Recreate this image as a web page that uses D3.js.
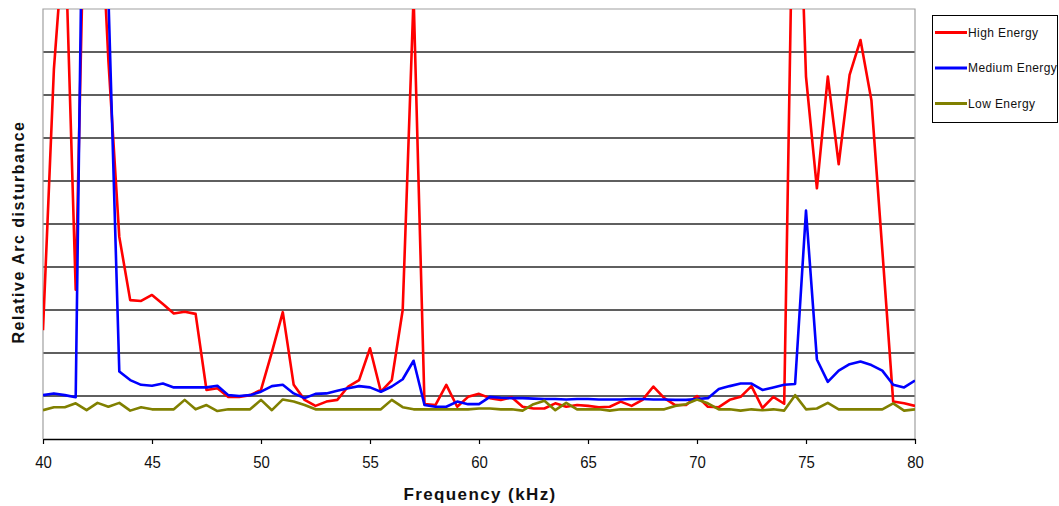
<!DOCTYPE html>
<html>
<head>
<meta charset="utf-8">
<script src="https://cdn.jsdelivr.net/npm/d3@7"></script>
<style>
  body { margin: 0; background: #fff; }
  text { font-family: "Liberation Sans", Arial, sans-serif; }
</style>
</head>
<body>
<script>
// chart data, one value every 0.5 kHz
const frequency = [40, 40.5, 41, 41.5, 42, 42.5, 43, 43.5, 44, 44.5, 45, 45.5, 46, 46.5, 47, 47.5, 48, 48.5, 49, 49.5,
  50, 50.5, 51, 51.5, 52, 52.5, 53, 53.5, 54, 54.5, 55, 55.5, 56, 56.5, 57, 57.5, 58, 58.5, 59, 59.5,
  60, 60.5, 61, 61.5, 62, 62.5, 63, 63.5, 64, 64.5, 65, 65.5, 66, 66.5, 67, 67.5, 68, 68.5, 69, 69.5,
  70, 70.5, 71, 71.5, 72, 72.5, 73, 73.5, 74, 74.5, 75, 75.5, 76, 76.5, 77, 77.5, 78, 78.5, 79, 79.5, 80];

const highEnergy = [2.53, 8.6, 12, 3.47, 15, 14, 8.8, 4.7, 3.23, 3.21, 3.35, 3.14, 2.92, 2.96, 2.91, 1.14, 1.18, 0.98, 0.98, 1.02,
  1.14, 2.02, 2.95, 1.26, 0.91, 0.77, 0.87, 0.91, 1.22, 1.37, 2.11, 1.10, 1.37, 3.0, 10.3, 0.81, 0.79, 1.26, 0.75, 0.98,
  1.05, 0.95, 0.91, 0.97, 0.75, 0.71, 0.71, 0.83, 0.75, 0.79, 0.77, 0.74, 0.75, 0.87, 0.77, 0.91, 1.22, 0.95, 0.79, 0.79,
  1.0, 0.75, 0.74, 0.91, 0.98, 1.23, 0.72, 0.98, 0.82, 16, 8.43, 5.83, 8.43, 6.39, 8.47, 9.28, 7.88, 4.4, 0.87, 0.83, 0.77];

const mediumEnergy = [1.02, 1.06, 1.02, 0.97, 20, 18, 10.3, 1.57, 1.37, 1.26, 1.24, 1.29, 1.20, 1.20, 1.20, 1.20, 1.24, 1.02, 1.0, 1.02,
  1.10, 1.23, 1.26, 1.06, 0.95, 1.05, 1.06, 1.12, 1.18, 1.23, 1.20, 1.10, 1.22, 1.39, 1.82, 0.79, 0.75, 0.75, 0.87, 0.81,
  0.81, 0.98, 0.96, 0.95, 0.95, 0.94, 0.93, 0.93, 0.92, 0.93, 0.93, 0.92, 0.92, 0.92, 0.93, 0.93, 0.92, 0.92, 0.91, 0.91,
  0.93, 0.95, 1.16, 1.23, 1.29, 1.29, 1.14, 1.20, 1.26, 1.28, 5.31, 1.85, 1.33, 1.59, 1.74, 1.80, 1.72, 1.59, 1.26, 1.20, 1.36];

const lowEnergy = [0.67, 0.74, 0.74, 0.83, 0.67, 0.84, 0.75, 0.84, 0.66, 0.74, 0.69, 0.69, 0.69, 0.91, 0.69, 0.79, 0.65, 0.69, 0.69, 0.69,
  0.91, 0.67, 0.92, 0.87, 0.79, 0.69, 0.69, 0.69, 0.69, 0.69, 0.69, 0.69, 0.91, 0.74, 0.69, 0.69, 0.69, 0.69, 0.69, 0.69,
  0.71, 0.71, 0.69, 0.69, 0.66, 0.81, 0.89, 0.67, 0.84, 0.69, 0.69, 0.69, 0.66, 0.69, 0.69, 0.69, 0.69, 0.69, 0.77, 0.81,
  0.92, 0.83, 0.69, 0.69, 0.66, 0.69, 0.67, 0.69, 0.66, 1.02, 0.69, 0.71, 0.84, 0.69, 0.69, 0.69, 0.69, 0.69, 0.83, 0.66, 0.69];

const seriesNames = ["High Energy", "Medium Energy", "Low Energy"];
const seriesColors = ["#ff0000", "#0000ff", "#808000"];
const xTicks = [40, 45, 50, 55, 60, 65, 70, 75, 80];
const gridValues = [1, 2, 3, 4, 5, 6, 7, 8, 9];

// layout
const width = 1059;
const height = 506;
const plotLeft = 43;
const plotRight = 915;
const plotTop = 9;
const plotBottom = 439;

var svg = d3.select("body").append("svg")
  .attr("width", width)
  .attr("height", height);

const xScale = d3.scaleLinear().domain([40, 80]).range([plotLeft, plotRight]);
const yScale = d3.scaleLinear().domain([0, 10]).range([plotBottom, plotTop]);

svg.append("clipPath")
  .attr("id", "plotClip")
  .append("rect")
  .attr("x", plotLeft)
  .attr("y", plotTop)
  .attr("width", plotRight - plotLeft)
  .attr("height", plotBottom - plotTop);

// gridlines
svg.selectAll(".grid")
  .data(gridValues)
  .enter()
  .append("line")
  .attr("class", "grid")
  .attr("x1", plotLeft)
  .attr("x2", plotRight)
  .attr("y1", function(d) { return yScale(d); })
  .attr("y2", function(d) { return yScale(d); })
  .attr("stroke", "#2a2a2a")
  .attr("stroke-width", 1.3);

// plot frame (grey top, left, right)
svg.append("path")
  .attr("d", "M" + plotLeft + "," + plotBottom + "V" + plotTop + "H" + plotRight + "V" + plotBottom)
  .attr("fill", "none")
  .attr("stroke", "#a0a0a0")
  .attr("stroke-width", 1.2);

// x axis
const xAxis = svg.append("g")
  .attr("transform", "translate(0," + plotBottom + ")")
  .call(d3.axisBottom(xScale).tickValues(xTicks).tickSize(5).tickSizeOuter(0).tickPadding(12));

xAxis.select(".domain").attr("stroke", "#000").attr("stroke-width", 1.6);
xAxis.selectAll(".tick line").attr("stroke", "#000").attr("stroke-width", 1.2);
xAxis.selectAll(".tick text")
  .attr("fill", "#111")
  .style("font-size", "17px")
  .attr("transform", "scale(0.88,1)")
  .attr("x", function(d) { return 0; });

// series lines
const line = d3.line()
  .x(function(d, i) { return xScale(frequency[i]); })
  .y(function(d) { return yScale(d); });

const plotGroup = svg.append("g").attr("clip-path", "url(#plotClip)");

[highEnergy, mediumEnergy, lowEnergy].forEach(function(values, i) {
  plotGroup.append("path")
    .datum(values)
    .attr("d", line)
    .attr("fill", "none")
    .attr("stroke", seriesColors[i])
    .attr("stroke-width", 2.6)
    .attr("stroke-linejoin", "round");
});

// axis titles
svg.append("text")
  .attr("x", (plotLeft + plotRight) / 2 + 1)
  .attr("y", 500)
  .attr("text-anchor", "middle")
  .style("font-size", "17px")
  .style("font-weight", "bold")
  .style("letter-spacing", "1.4px")
  .attr("fill", "#111")
  .text("Frequency (kHz)");

svg.append("text")
  .attr("transform", "translate(24,232) rotate(-90)")
  .attr("text-anchor", "middle")
  .style("font-size", "16px")
  .style("font-weight", "bold")
  .style("letter-spacing", "1.5px")
  .attr("fill", "#111")
  .text("Relative Arc disturbance");

// legend
const legend = svg.append("g");

legend.append("rect")
  .attr("x", 932.5)
  .attr("y", 15.5)
  .attr("width", 125)
  .attr("height", 107)
  .attr("fill", "#fff")
  .attr("stroke", "#000")
  .attr("stroke-width", 1);

const legendItems = legend.selectAll(".legendItem")
  .data(seriesNames)
  .enter()
  .append("g")
  .attr("class", "legendItem")
  .attr("transform", function(d, i) { return "translate(935," + (32.5 + i * 35.5) + ")"; });

legendItems.append("line")
  .attr("x1", 0)
  .attr("x2", 32)
  .attr("stroke", function(d, i) { return seriesColors[i]; })
  .attr("stroke-width", 3);

legendItems.append("text")
  .attr("x", 33)
  .attr("y", 4)
  .style("font-size", "12px")
  .style("letter-spacing", "0.4px")
  .attr("fill", "#111")
  .text(function(d) { return d; });
</script>
</body>
</html>
